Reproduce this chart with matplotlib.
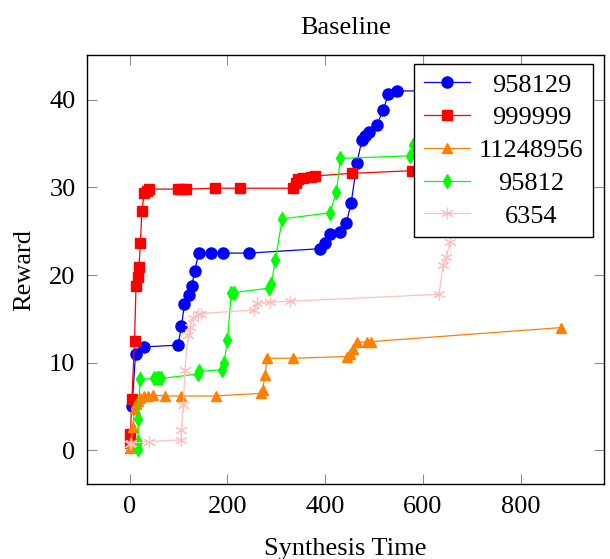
import matplotlib
matplotlib.use("Agg")
import matplotlib.pyplot as plt

plt.rcParams['font.family'] = ['Liberation Serif', 'DejaVu Serif']

# series
x_958129 = [5, 12, 30, 99, 106, 112, 121, 127, 133, 141, 166, 190, 244, 389, 399,
            410, 431, 443, 453, 465, 475, 482, 490, 505, 519, 529, 546, 700]
y_958129 = [5.0, 11.0, 11.8, 12.0, 14.2, 16.7, 17.7, 18.7, 20.4, 22.5, 22.5, 22.5,
            22.5, 23.0, 23.6, 24.7, 24.9, 25.9, 28.2, 32.8, 35.4, 35.9, 36.3, 37.1,
            38.8, 40.7, 41.0, 41.0]

x_999999 = [0, 1.7, 4.5, 10, 13, 17, 19, 22, 25, 30, 35, 40, 98, 107, 116, 175, 226,
            335, 340, 345, 355, 370, 380, 455, 577, 700]
y_999999 = [0.8, 1.9, 5.8, 12.5, 18.7, 19.8, 20.9, 23.6, 27.3, 29.4, 29.6, 29.8, 29.8,
            29.8, 29.8, 29.9, 29.9, 29.9, 30.5, 31.0, 31.1, 31.2, 31.3, 31.6, 31.9, 32.0]

x_11248956 = [0.5, 3, 6.5, 10, 14, 17, 22, 30, 37, 47, 72, 106, 176, 268, 272, 277,
              281, 334, 444, 451, 457, 465, 486, 494, 882]
y_11248956 = [0.3, 0.8, 2.7, 4.7, 5.3, 5.6, 6.0, 6.2, 6.2, 6.3, 6.2, 6.2, 6.2, 6.5,
              6.9, 8.6, 10.5, 10.5, 10.7, 11.0, 11.6, 12.3, 12.4, 12.4, 14.0]

x_95812 = [17, 17.5, 18, 21, 50, 55, 60, 65, 139, 142, 188, 193, 200, 208, 213, 285,
           290, 298, 312, 410, 423, 431, 573, 580, 620]
y_95812 = [0.1, 0.9, 3.6, 8.1, 8.2, 8.2, 8.2, 8.2, 8.7, 9.0, 9.2, 10.0, 12.6, 17.9,
           18.0, 18.5, 19.0, 21.7, 26.4, 27.1, 29.5, 33.3, 33.6, 34.8, 36.0]

x_6354 = [1, 3, 40, 105, 106, 110, 113, 120, 123, 130, 139, 146, 254, 261, 288, 327,
          633, 641, 648, 655, 670, 700]
y_6354 = [0.7, 0.8, 1.0, 1.2, 2.3, 5.2, 9.2, 13.2, 14.1, 15.1, 15.6, 15.6, 16.0, 16.8,
          16.9, 17.0, 17.8, 21.1, 22.1, 23.8, 27.0, 30.0]

fig = plt.figure(figsize=(6.1, 5.59), dpi=100)
ax = fig.add_axes([0.142, 0.1333, 0.848, 0.7683])

ax.plot(x_958129, y_958129, color='blue', lw=0.9, marker='o', ms=8, mec='blue', label='958129')
ax.plot(x_999999, y_999999, color='red', lw=0.9, marker='s', ms=7.3, mec='red', label='999999')
ax.plot(x_11248956, y_11248956, color=(1, 0.5, 0), lw=0.9, marker='^', ms=7.5,
        mec=(1, 0.5, 0), label='11248956')
ax.plot(x_95812, y_95812, color=(0, 1, 0), lw=0.9, marker='d', ms=7.5, mec=(0, 1, 0),
        label='95812')
ax.plot(x_6354, y_6354, color=(1, 0.75, 0.75), lw=0.9, marker=(6, 2, 0), ms=8.5, mew=0.8,
        mec=(1, 0.75, 0.75), label='6354')

ax.set_xlim(-88, 970)
ax.set_ylim(-3.9, 45.1)
ax.set_xticks([0, 200, 400, 600, 800])
ax.set_yticks([0, 10, 20, 30, 40])
ax.tick_params(direction='in', length=7, width=0.8, color='0.55', labelsize=19, pad=8,
               top=True, right=True)
for s in ax.spines.values():
    s.set_linewidth(1.0)

ax.set_title('Baseline', fontsize=19, pad=15)
ax.set_xlabel('Synthesis Time', fontsize=19, labelpad=15)
ax.set_ylabel('Reward', fontsize=19, labelpad=10)

leg = ax.legend(loc='upper right', bbox_to_anchor=(0.9788, 0.979), borderaxespad=0,
                fontsize=19, fancybox=False, framealpha=1, edgecolor='black',
                handlelength=1.75, handletextpad=0.35, borderpad=0.35, labelspacing=0.35)
leg.get_frame().set_linewidth(1.0)

# center the legend labels like pgfplots does
r = fig.canvas.get_renderer()
texts = leg.get_texts()
widths = [t.get_window_extent(r).width for t in texts]
wmax = max(widths)
for t, w in zip(texts, widths):
    t.set_x((wmax - w) / 2)

fig.savefig('out.png', dpi=100)
